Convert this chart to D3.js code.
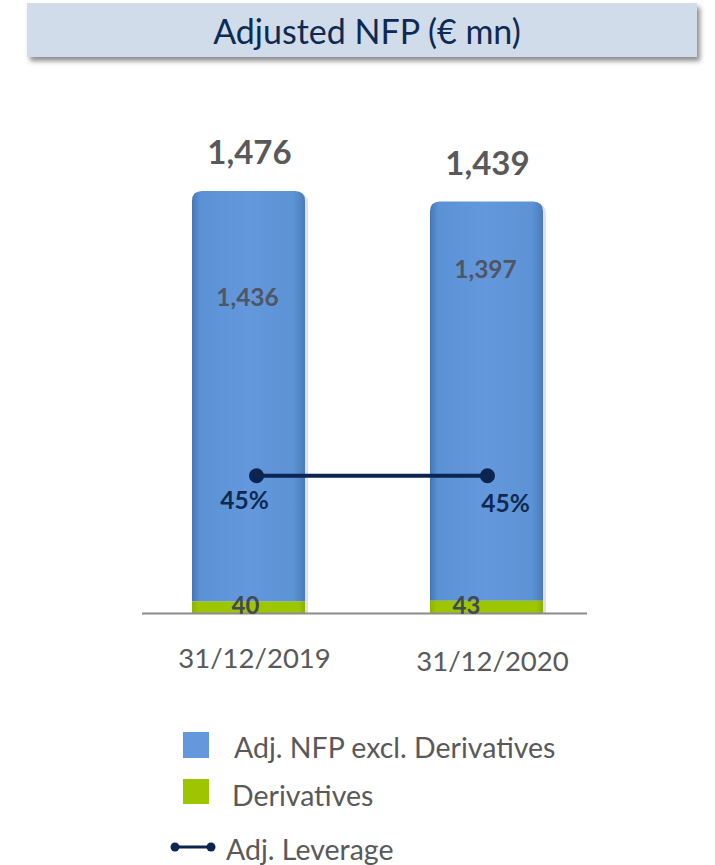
<!DOCTYPE html>
<html>
<head>
<meta charset="utf-8">
<script src="https://cdn.jsdelivr.net/npm/d3@7"></script>
<style>
  body { margin: 0; background: #fff; }
  text { font-family: Lato, "Open Sans", sans-serif; }
</style>
</head>
<body>
<svg id="chart" width="715" height="865"></svg>
<script>
// data
var categories = ["31/12/2019", "31/12/2020"];
var nfpExclDeriv = [1436, 1397];
var derivatives = [40, 43];
var totals = [1476, 1439];
var leverage = [0.45, 0.45];
var legendItems = ["Adj. NFP excl. Derivatives", "Derivatives", "Adj. Leverage"];

var svg = d3.select("#chart");
var baseY = 613;

var defs = svg.append("defs");
defs.append("filter").attr("id", "shadow")
    .attr("x", "-5%").attr("y", "-20%").attr("width", "115%").attr("height", "160%")
    .append("feDropShadow")
    .attr("dx", 3).attr("dy", 4).attr("stdDeviation", 2.5)
    .attr("flood-color", "#000").attr("flood-opacity", 0.45);

var blueGrad = defs.append("linearGradient").attr("id", "blueGrad")
    .attr("x1", 0).attr("x2", 1).attr("y1", 0).attr("y2", 0);
[[0, "#4676b4"], [0.07, "#5b92d5"], [0.5, "#6399dc"], [0.9, "#5c93d5"], [1, "#4a7bb9"]]
    .forEach(function (s) { blueGrad.append("stop").attr("offset", s[0]).attr("stop-color", s[1]); });

var greenGrad = defs.append("linearGradient").attr("id", "greenGrad")
    .attr("x1", 0).attr("x2", 1).attr("y1", 0).attr("y2", 0);
[[0, "#8fb300"], [0.06, "#9ec600"], [0.94, "#9ec600"], [1, "#8cb000"]]
    .forEach(function (s) { greenGrad.append("stop").attr("offset", s[0]).attr("stop-color", s[1]); });

// title box
svg.append("rect")
    .attr("x", 27).attr("y", 3).attr("width", 670).attr("height", 54)
    .attr("fill", "#d0dcea")
    .attr("filter", "url(#shadow)");
svg.append("text")
    .attr("x", 367).attr("y", 44)
    .attr("text-anchor", "middle")
    .attr("font-size", 34)
    .attr("fill", "#0e2a52")
    .text("Adjusted NFP (€ mn)");

// scales
var x = d3.scaleBand().domain(categories).range([192, 543]).paddingInner(0.525).paddingOuter(0);
var y = d3.scaleLinear().domain([0, 1476]).range([baseY, 191]);
var y2 = d3.scaleLinear().domain([0, 1]).range([baseY, baseY - 305]);

var bw = x.bandwidth();
var r = 10;

function topRounded(x0, y0, w, h, rr) {
    return "M" + x0 + "," + (y0 + h) +
        "V" + (y0 + rr) +
        "Q" + x0 + "," + y0 + " " + (x0 + rr) + "," + y0 +
        "H" + (x0 + w - rr) +
        "Q" + (x0 + w) + "," + y0 + " " + (x0 + w) + "," + (y0 + rr) +
        "V" + (y0 + h) + "Z";
}

var bars = svg.append("g").selectAll("g")
    .data(categories)
    .enter().append("g");

// soft right shadow
bars.append("path")
    .attr("d", function (d, i) {
        var t = y(totals[i]);
        return topRounded(x(d) + 3, t + 2, bw, baseY - t - 2, r);
    })
    .attr("fill", "#000").attr("opacity", 0.12);

bars.append("path")
    .attr("d", function (d, i) {
        var t = y(totals[i]);
        return topRounded(x(d), t, bw, y(derivatives[i]) - t, r);
    })
    .attr("fill", "url(#blueGrad)");

bars.append("rect")
    .attr("x", function (d) { return x(d); })
    .attr("y", function (d, i) { return y(derivatives[i]); })
    .attr("width", bw)
    .attr("height", function (d, i) { return baseY - y(derivatives[i]); })
    .attr("fill", "url(#greenGrad)");

// baseline
svg.append("line")
    .attr("x1", 142).attr("x2", 587)
    .attr("y1", baseY + 0.5).attr("y2", baseY + 0.5)
    .attr("stroke", "#8c8c8c").attr("stroke-width", 2);

// total labels
svg.append("g").selectAll("text")
    .data(totals).enter().append("text")
    .attr("x", function (d, i) { return x(categories[i]) + bw / 2 + 1; })
    .attr("y", function (d) { return y(d) - 27; })
    .attr("text-anchor", "middle")
    .attr("font-size", 33).attr("font-weight", "bold")
    .attr("fill", "#595959")
    .text(function (d) { return d3.format(",")(d); });

// inner labels
var innerOffset = [115, 76];
svg.append("g").selectAll("text")
    .data(nfpExclDeriv).enter().append("text")
    .attr("x", function (d, i) { return x(categories[i]) + bw / 2 - 1; })
    .attr("y", function (d, i) { return y(totals[i]) + innerOffset[i]; })
    .attr("text-anchor", "middle")
    .attr("font-size", 24.5).attr("font-weight", "bold")
    .attr("fill", "#4f5563")
    .text(function (d) { return d3.format(",")(d); });

// derivatives labels
svg.append("g").selectAll("text")
    .data(derivatives).enter().append("text")
    .attr("x", function (d, i) { return x(categories[i]) + bw / 2 - 3 - i * 17; })
    .attr("y", baseY + 1)
    .attr("text-anchor", "middle")
    .attr("font-size", 24).attr("font-weight", "bold")
    .attr("fill", "#414858")
    .text(function (d) { return d; });

// leverage line
var lx = function (i) { return x(categories[i]) + bw / 2 + (i === 0 ? 8 : 1); };
svg.append("path")
    .datum(leverage)
    .attr("d", d3.line().x(function (d, i) { return lx(i); }).y(function (d) { return y2(d); }))
    .attr("fill", "none").attr("stroke", "#0c2450").attr("stroke-width", 4);
svg.append("g").selectAll("circle")
    .data(leverage).enter().append("circle")
    .attr("cx", function (d, i) { return lx(i); })
    .attr("cy", function (d) { return y2(d); })
    .attr("r", 7.5).attr("fill", "#0c2450");
svg.append("g").selectAll("text")
    .data(leverage).enter().append("text")
    .attr("x", function (d, i) { return i === 0 ? lx(i) - 12 : lx(i) + 18; })
    .attr("y", function (d, i) { return y2(d) + 33 + i * 3; })
    .attr("text-anchor", "middle")
    .attr("font-size", 24.5).attr("font-weight", "bold")
    .attr("fill", "#0e2a52")
    .text(function (d) { return d3.format(".0%")(d); });

// category labels
svg.append("g").selectAll("text")
    .data(categories).enter().append("text")
    .attr("x", function (d) { return x(d) + bw / 2 + 6; })
    .attr("y", function (d, i) { return 668 + i * 3; })
    .attr("text-anchor", "middle")
    .attr("font-size", 27.5)
    .attr("fill", "#595959")
    .text(function (d) { return d; });

// legend
var lg = svg.append("g");
lg.append("rect").attr("x", 183).attr("y", 732).attr("width", 26).attr("height", 26).attr("fill", "#6399dc");
lg.append("text").attr("x", 234).attr("y", 758).attr("font-size", 28.5).attr("fill", "#595959").text(legendItems[0]);
lg.append("rect").attr("x", 183).attr("y", 779).attr("width", 26).attr("height", 25).attr("fill", "#9ec600");
lg.append("text").attr("x", 232).attr("y", 806).attr("font-size", 28.5).attr("fill", "#595959").text(legendItems[1]);
lg.append("line").attr("x1", 175).attr("x2", 211).attr("y1", 847).attr("y2", 847)
    .attr("stroke", "#0c2450").attr("stroke-width", 3);
lg.selectAll("circle").data([175, 211]).enter().append("circle")
    .attr("cx", function (d) { return d; }).attr("cy", 847).attr("r", 4.5).attr("fill", "#0c2450");
lg.append("text").attr("x", 226).attr("y", 860).attr("font-size", 28.5).attr("fill", "#595959").text(legendItems[2]);
</script>
</body>
</html>
